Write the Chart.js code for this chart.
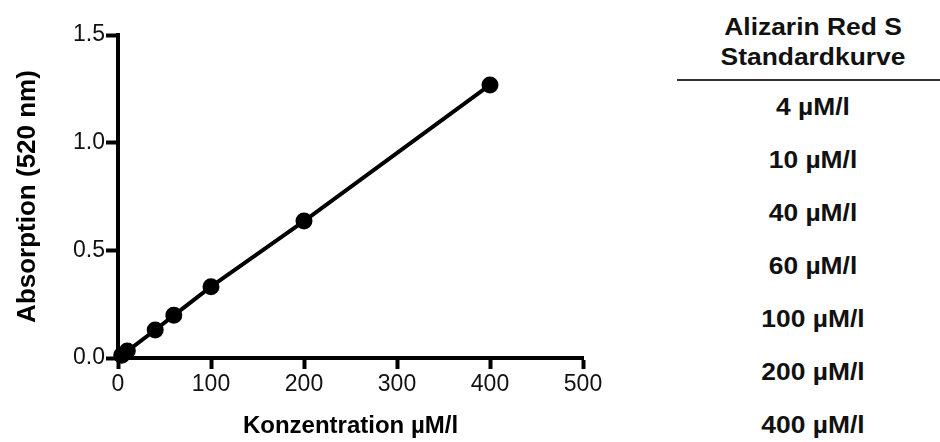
<!DOCTYPE html>
<html>
<head>
<meta charset="utf-8">
<script src="https://cdn.jsdelivr.net/npm/chart.js@4"></script>
<style>
  body { margin: 0; background: #fff; font-family: "Liberation Sans", Arial, sans-serif; }
  #wrap { position: relative; width: 940px; height: 442px; }
  #chart { position: absolute; left: 0; top: 0; }
  .cell { position: absolute; left: 690px; width: 246px; text-align: center; font-weight: bold; font-size: 24px; line-height: 30px; color: #111; transform: scaleX(1.1); }
  #rule { position: absolute; left: 677px; top: 79px; width: 263px; height: 2px; background: #333; }
</style>
</head>
<body>
<div id="wrap">
  <canvas id="chart" width="640" height="442"></canvas>
  <div id="table"></div>
</div>
<script>
// Konzentrationen (µM/l) und gemessene Absorption bei 520 nm
const konzentration = [4, 10, 40, 60, 100, 200, 400];
const absorption = [0.013, 0.032, 0.130, 0.198, 0.331, 0.636, 1.268];
const tabellenTitel = ['Alizarin Red S', 'Standardkurve'];
const einheit = 'µM/l';

const fontName = '"Liberation Sans", Arial, sans-serif';

// Tabelle rechts
const tabelle = document.getElementById('table');
tabellenTitel.forEach((t, i) => {
  const d = document.createElement('div');
  d.className = 'cell';
  d.style.top = (12 + i * 30) + 'px';
  d.textContent = t;
  tabelle.appendChild(d);
});
const linie = document.createElement('div');
linie.id = 'rule';
tabelle.appendChild(linie);
konzentration.forEach((k, i) => {
  const d = document.createElement('div');
  d.className = 'cell';
  d.style.top = (92 + i * 53) + 'px';
  d.textContent = k + ' ' + einheit;
  tabelle.appendChild(d);
});

new Chart(document.getElementById('chart'), {
  type: 'scatter',
  data: {
    datasets: [{
      data: konzentration.map((k, i) => ({ x: k, y: absorption[i] })),
      showLine: true,
      borderColor: '#000',
      backgroundColor: '#000',
      borderWidth: 4,
      pointRadius: 6.5,
      pointHoverRadius: 6.5,
      clip: false
    }]
  },
  options: {
    responsive: false,
    animation: false,
    layout: { padding: { top: 35, right: 57, bottom: 0, left: 0 } },
    plugins: { legend: { display: false }, tooltip: { enabled: false } },
    scales: {
      x: {
        type: 'linear',
        min: 0, max: 500,
        afterFit: s => { s.height = 84; },
        ticks: { stepSize: 100, color: '#111', padding: 2, maxRotation: 0, font: { family: fontName, size: 23 } },
        grid: { drawOnChartArea: false, drawTicks: true, tickLength: 11, tickWidth: 4, tickColor: '#000' },
        border: { display: true, width: 4, color: '#000' },
        title: { display: true, text: 'Konzentration µM/l', color: '#000', padding: { top: 0, bottom: 1 }, font: { family: fontName, size: 24, weight: 'bold' } }
      },
      y: {
        min: 0, max: 1.5,
        afterFit: s => { s.width = 118; },
        ticks: { stepSize: 0.5, color: '#111', padding: 1, font: { family: fontName, size: 23 }, callback: v => v.toFixed(1) },
        grid: { drawOnChartArea: false, drawTicks: true, tickLength: 12, tickWidth: 4, tickColor: '#000' },
        border: { display: true, width: 4, color: '#000' },
        title: { display: true, text: 'Absorption (520 nm)', color: '#000', padding: { top: 12, bottom: 0 }, font: { family: fontName, size: 26, weight: 'bold' } }
      }
    }
  }
});
</script>
</body>
</html>
